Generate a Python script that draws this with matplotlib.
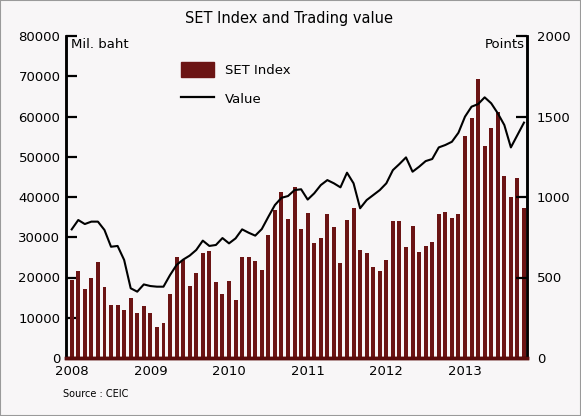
import matplotlib
matplotlib.use("Agg")
import matplotlib.pyplot as plt
from matplotlib.patches import Patch, Rectangle
from matplotlib.lines import Line2D
import numpy as np

# ---- data ----
months = [f"{y}-{m:02d}" for y in range(2008, 2014) for m in range(1, 13)][:70]
year_labels = ["2008", "2009", "2010", "2011", "2012", "2013"]

trading_value = [19400, 21600, 17100, 20000, 23900, 17700, 13200, 13100, 11900, 15000,
                 11300, 13000, 11100, 7600, 8600, 15900, 25000, 24300, 17900, 21200,
                 26200, 26600, 18900, 15800, 19100, 14400, 25200, 25000, 24200, 21900,
                 30600, 36800, 41200, 34500, 42400, 32000, 36100, 28500, 29700, 35800,
                 32500, 23500, 34300, 37300, 26800, 26200, 22500, 21600, 24300, 34100,
                 34100, 27700, 32800, 26400, 27800, 28700, 35700, 36300, 34700, 35900,
                 55200, 59700, 69300, 52700, 57200, 61200, 45200, 39900, 44600, 37200]

set_index = [799, 857, 832, 847, 847, 795, 691, 696, 609, 433,
             412, 457, 447, 443, 443, 515, 578, 611, 636, 671,
             729, 696, 702, 745, 712, 743, 799, 778, 760, 801,
             877, 950, 995, 1006, 1043, 1048, 984, 1023, 1074, 1105,
             1085, 1060, 1151, 1085, 930, 981, 1012, 1043, 1085, 1167,
             1205, 1246, 1157, 1188, 1223, 1236, 1308, 1323, 1343, 1399,
             1499, 1561, 1577, 1619, 1582, 1520, 1447, 1308, 1385, 1462]

left_ticks = [0, 10000, 20000, 30000, 40000, 50000, 60000, 70000, 80000]
right_ticks = [0, 500, 1000, 1500, 2000]

# ---- figure ----
W, H = 581, 416
bg = "#f8f6f7"
fig = plt.figure(figsize=(W / 100, H / 100), dpi=100, facecolor=bg)
ax = fig.add_axes([66 / W, 1 - 358 / H, (527 - 66) / W, (358 - 36) / H])
ax.set_facecolor(bg)
ax2 = ax.twinx()

x = np.arange(len(months))
bar_color = "#6b1414"
ax.bar(x, trading_value, width=0.6, color=bar_color, zorder=2)
ax2.plot(x, set_index, color="black", lw=1.5, zorder=3)

ax.set_xlim(-0.87, 69.46)
ax.set_ylim(0, 80000)
ax2.set_ylim(0, 2000)

ax.set_yticks(left_ticks)
ax.set_yticklabels([str(v) for v in left_ticks])
ax2.set_yticks(right_ticks)
ax2.set_yticklabels([str(v) for v in right_ticks])
ax.set_xticks(np.arange(0, 72, 12)[:len(year_labels)])
ax.set_xticklabels(year_labels)

fs = 9.5
ax.tick_params(axis="y", direction="in", length=8, width=1.6, labelsize=fs, pad=4)
ax2.tick_params(axis="y", direction="in", length=8, width=1.6, labelsize=fs, pad=7)
ax.tick_params(axis="x", length=0, labelsize=fs, pad=5)

for a in (ax, ax2):
    a.spines["top"].set_visible(False)
    a.spines["left"].set_linewidth(1.8)
    a.spines["right"].set_linewidth(1.8)
    a.spines["bottom"].set_color("#5a0c0c")
    a.spines["bottom"].set_linewidth(2.5)

ax.text(0.01, 0.995, "Mil. baht", transform=ax.transAxes, ha="left", va="top", fontsize=fs)
ax.text(0.995, 0.995, "Points", transform=ax.transAxes, ha="right", va="top", fontsize=fs)

fig.text(289 / W, 1 - 19 / H, "SET Index and Trading value", ha="center", va="center", fontsize=10.5)
fig.text(63 / W, 1 - 394 / H, "Source : CEIC", ha="left", va="center", fontsize=7)

handles = [Patch(facecolor=bar_color, edgecolor=bar_color),
           Line2D([0], [0], color="black", lw=1.6)]
fig.legend(handles, ["SET Index", "Value"], loc="upper left",
           bbox_to_anchor=(181 / W, 1 - 62 / H), frameon=False, fontsize=fs,
           handlelength=2.5, handleheight=1.4, handletextpad=0.85,
           labelspacing=1.05, borderpad=0, borderaxespad=0)

fig.patches.append(Rectangle((0, 0), 1, 1, transform=fig.transFigure, fill=False,
                             edgecolor="#9a9a9a", lw=1.5))

fig.savefig("out.png", dpi=100, facecolor=bg)
